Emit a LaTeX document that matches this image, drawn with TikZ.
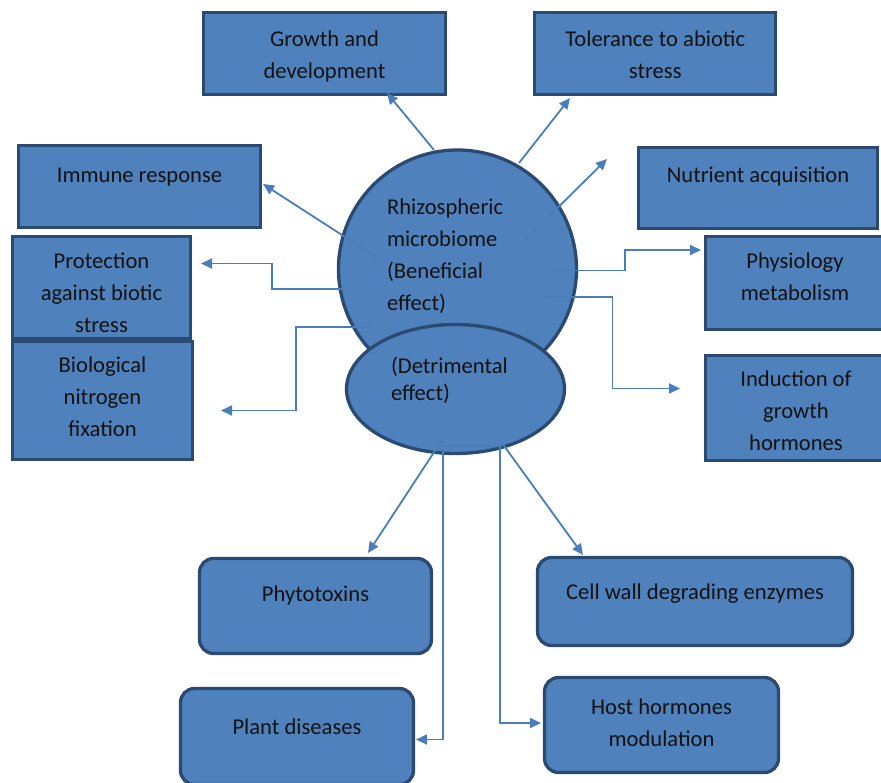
\documentclass[tikz,border=0pt]{standalone}
\usepackage{fontspec}
\setmainfont{Carlito}
\usetikzlibrary{arrows.meta,shapes.geometric}
\definecolor{boxfill}{HTML}{4F81BD}
\definecolor{boxline}{HTML}{2A4A72}
\definecolor{connc}{HTML}{4A7EBB}
\definecolor{txt}{HTML}{121212}
\begin{document}
\begin{tikzpicture}[x=1pt,y=-1pt,
  box/.style={draw=boxline,fill=boxfill,line width=3.3pt,inner sep=0pt,outer sep=0pt},
  rbox/.style={box,rounded corners=14pt},
  lbl/.style={text=txt,font=\fontsize{22.6}{32}\selectfont,inner sep=0pt,outer sep=0pt,anchor=north,align=center},
  lbll/.style={lbl,anchor=north west,align=left},
  conn/.style={draw=connc,line width=1.8pt,-{Triangle[length=11pt,width=10pt]}}]
\clip (0,0) rectangle (881,782);
\useasboundingbox (0,0) rectangle (881,782);

% boxes
\node[box,minimum width=242pt,minimum height=82pt] (growth) at (324.5,53.5) {};
\node[box,minimum width=241pt,minimum height=82pt] (toler) at (655,53.5) {};
\node[box,minimum width=242pt,minimum height=82pt] (immune) at (139.5,186.5) {};
\node[box,minimum width=239pt,minimum height=81pt] (nutri) at (758,188) {};
\node[box,minimum width=179pt,minimum height=93pt] (physio) at (795,283) {};
\node[box,minimum width=181pt,minimum height=105pt] (induct) at (796,408) {};
\node[box,minimum width=178pt,minimum height=102pt] (protect) at (101.5,287.5) {};
\node[box,minimum width=180pt,minimum height=118pt] (bio) at (102.5,400.5) {};
\node[rbox,minimum width=232pt,minimum height=95pt] (phyto) at (315.5,606) {};
\node[rbox,minimum width=233pt,minimum height=96pt] (plant) at (297,736.5) {};
\node[rbox,minimum width=315pt,minimum height=88pt] (cell) at (695,601.5) {};
\node[rbox,minimum width=234pt,minimum height=95pt] (host) at (661.5,725) {};

% central shapes
\node[box,circle,minimum size=238pt] (rhizo) at (457.5,269) {};
\node[box,ellipse,minimum width=218pt,minimum height=129pt] (detr) at (455.5,389) {};

% labels
\node[lbl] (tgrowth) at (324.5,24) {\strut Growth and\\development};
\node[lbl] (ttoler) at (655.3,24) {\strut Tolerance to abiotic\\stress};
\node[lbl] (timmune) at (139.5,160) {\strut Immune response};
\node[lbl] (tnutri) at (758,160) {\strut Nutrient acquisition};
\node[lbl] (tprotect) at (101.5,246) {\strut Protection\\against biotic\\stress};
\node[lbl] (tbio) at (102.5,350) {\strut Biological\\nitrogen\\fixation};
\node[lbl] (tphysio) at (795,246) {\strut Physiology\\metabolism};
\node[lbl] (tinduct) at (796,364) {\strut Induction of\\growth\\hormones};
\node[lbl] (tphyto) at (315.5,579) {\strut Phytotoxins};
\node[lbl] (tplant) at (297,712) {\strut Plant diseases};
\node[lbl] (tcell) at (695,577) {\strut Cell wall degrading enzymes};
\node[lbl] (thost) at (661.5,692.5) {\strut Host hormones\\modulation};
\node[lbll] (trhizo) at (387,192) {\strut Rhizospheric\\microbiome\\(Beneficial\\effect)};
\node[lbll,font=\fontsize{22.6}{27}\selectfont] (tdetr) at (391,354.5) {\strut (Detrimental\\effect)};

% connector end points
\coordinate (g1) at (434,150);   \coordinate (g2) at (387,93);
\coordinate (t1) at (519,163);   \coordinate (t2) at (570,98);
\coordinate (n1) at (520,245);   \coordinate (n2) at (607,159);
\coordinate (i1) at (376,257);   \coordinate (i2) at (263,184);
\coordinate (p1) at (343,289);   \coordinate (pm) at (272,276);   \coordinate (p2) at (201,263.5);
\coordinate (b1) at (372,327);   \coordinate (bm) at (296,370);   \coordinate (b2) at (221,410.5);
\coordinate (h1) at (550,270.5); \coordinate (hm) at (625,260);   \coordinate (h2) at (701,250);
\coordinate (d1) at (545,297);   \coordinate (dm) at (612.5,340); \coordinate (d2) at (680,388.5);
\coordinate (x1) at (442,440);   \coordinate (x2) at (368,553);
\coordinate (c1) at (502,443);   \coordinate (c2) at (583,555);
\coordinate (l1) at (501,446);   \coordinate (lm) at (443,600);   \coordinate (l2) at (416,739.5);
\coordinate (o1) at (443,446);   \coordinate (om) at (500,600);   \coordinate (o2) at (541,723);

% connectors
\draw[conn] (g1) -- (g2);
\draw[conn] (t1) -- (t2);
\draw[conn] (n1) -- (n2);
\draw[conn] (i1) -- (i2);
\draw[conn] (p1) -| (pm) |- (p2);
\draw[conn] (b1) -| (bm) |- (b2);
\draw[conn] (h1) -| (hm) |- (h2);
\draw[conn] (d1) -| (dm) |- (d2);
\draw[conn] (x1) -- (x2);
\draw[conn] (c1) -- (c2);
\draw[conn] (l1) -| (lm) |- (l2);
\draw[conn] (o1) -| (om) |- (o2);
\end{tikzpicture}
\end{document}
